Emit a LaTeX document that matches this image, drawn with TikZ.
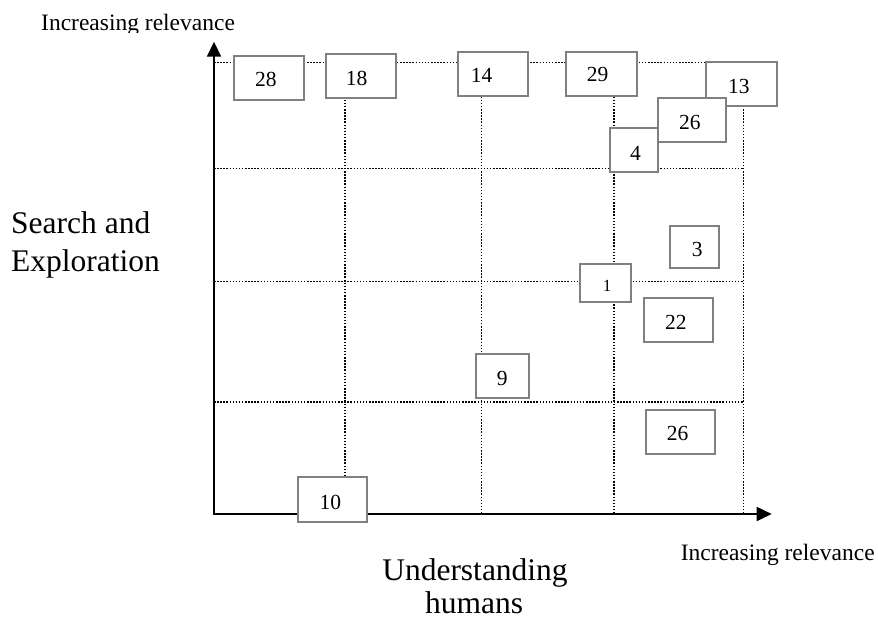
\documentclass[tikz,border=0pt]{standalone}
\usepackage{fontspec}
\setmainfont{Liberation Serif}
\usetikzlibrary{arrows.meta}
\definecolor{boxgray}{RGB}{128,128,128}
\begin{document}
\begin{tikzpicture}[x=1pt,y=-1pt,
  gridline/.style={line width=1.5pt, dash pattern=on 1.5pt off 1.6pt},
  axisline/.style={line width=1.8pt},
  numbox/.style={draw=boxgray, fill=white, line width=1.8pt, inner sep=0pt, outer sep=0pt},
  numlab/.style={inner sep=0pt, anchor=base west, font=\fontsize{21.5}{25}\selectfont},
  biglab/.style={inner sep=0pt, font=\fontsize{31.5}{38}\selectfont},
  smalllab/.style={inner sep=0pt, anchor=base west, font=\fontsize{23.5}{28}\selectfont}
]
\useasboundingbox (0,0) rectangle (878,619);

% grid coordinates
\coordinate (hL1) at (214,62.5);  \coordinate (hR1) at (743.3,62.5);
\coordinate (hL2) at (214,168.5); \coordinate (hR2) at (743.3,168.5);
\coordinate (hL3) at (214,281.5); \coordinate (hR3) at (743.3,281.5);
\coordinate (hL4) at (214,402);   \coordinate (hR4) at (743.3,402);
\coordinate (vT1) at (345,62.5);   \coordinate (vB1) at (345,514);
\coordinate (vT2) at (481.5,62.5); \coordinate (vB2) at (481.5,514);
\coordinate (vT3) at (614,62.5);   \coordinate (vB3) at (614,514);
\coordinate (vT4) at (743.3,62.5); \coordinate (vB4) at (743.3,514);

\draw[gridline] (hL1) -- (hR1);
\draw[gridline] (hL2) -- (hR2);
\draw[gridline] (hL3) -- (hR3);
\draw[gridline] (hL4) -- (hR4);
\draw[gridline] (vT1) -- (vB1);
\draw[gridline] (vT2) -- (vB2);
\draw[gridline] (vT3) -- (vB3);
\draw[gridline] (vT4) -- (vB4);

% axes
\coordinate (origin) at (214,514);
\coordinate (ytip) at (214,41.7);
\coordinate (xtip) at (771.7,514);
\draw[axisline, {Triangle[length=15pt,width=14pt]}-{Triangle[length=15pt,width=14pt]}] (ytip) -- (origin) -- (xtip);

% boxes
\node[numbox, minimum width=70pt, minimum height=44pt] (b28) at (269,78) {};
\node[numbox, minimum width=70pt, minimum height=44pt] (b18) at (361,76) {};
\node[numbox, minimum width=70pt, minimum height=44pt] (b14) at (493,74) {};
\node[numbox, minimum width=71pt, minimum height=44pt] (b29) at (601.5,74) {};
\node[numbox, minimum width=71pt, minimum height=44pt] (b13) at (741.5,84) {};
\node[numbox, minimum width=68pt, minimum height=44pt] (b26a) at (692,120) {};
\node[numbox, minimum width=48pt, minimum height=44pt] (b4) at (634,150) {};
\node[numbox, minimum width=49pt, minimum height=42pt] (b3) at (694.5,247) {};
\node[numbox, minimum width=51pt, minimum height=38pt] (b1) at (605.5,283) {};
\node[numbox, minimum width=69pt, minimum height=44pt] (b22) at (678.5,320) {};
\node[numbox, minimum width=69pt, minimum height=44pt] (b26b) at (680.5,432) {};
\node[numbox, minimum width=53pt, minimum height=44pt] (b9) at (502.5,376) {};
\node[numbox, minimum width=69pt, minimum height=45pt] (b10) at (332.5,499.5) {};

% box labels
\node[numlab] (t28) at (255,86.7) {28};
\node[numlab] (t18) at (345.7,85) {18};
\node[numlab] (t14) at (470.7,82.7) {14};
\node[numlab] (t29) at (586.7,81.7) {29};
\node[numlab] (t13) at (728,93.3) {13};
\node[numlab] (t26a) at (679,129) {26};
\node[numlab] (t4) at (630,160) {4};
\node[numlab] (t3) at (691.7,256.7) {3};
\node[numlab, font=\fontsize{17}{20}\selectfont] (t1) at (602.7,291.7) {1};
\node[numlab] (t22) at (665,329) {22};
\node[numlab] (t26b) at (666.7,440.7) {26};
\node[numlab] (t9) at (496.7,385) {9};
\node[numlab] (t10) at (319.3,509) {10};

% axis titles
\begin{scope}
  \clip (0,0) rectangle (300,32);
  \node[smalllab] (ytitle) at (41,30) {Increasing relevance};
\end{scope}
\node[smalllab] (xtitle) at (680.7,560) {Increasing relevance};
\node[biglab, anchor=base west] (sea1) at (11,233.3) {Search and};
\node[biglab, anchor=base west] (sea2) at (11,271.7) {Exploration};
\node[biglab, anchor=base] (und1) at (475,580) {Understanding};
\node[biglab, anchor=base] (und2) at (474,613.5) {humans};
\end{tikzpicture}
\end{document}
